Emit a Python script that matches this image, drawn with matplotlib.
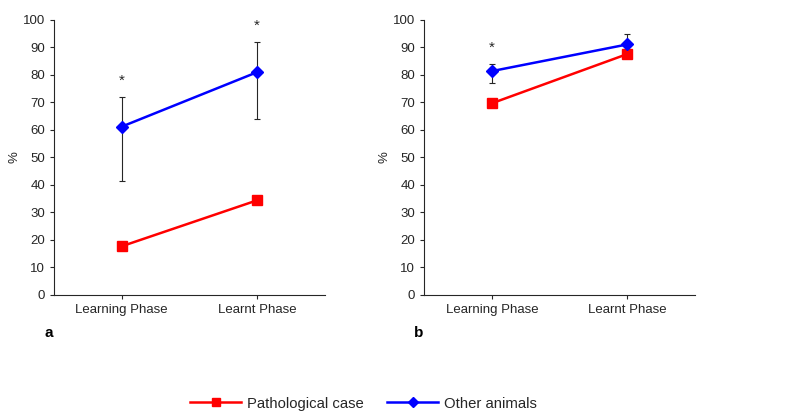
import matplotlib
matplotlib.use("Agg")
import matplotlib.pyplot as plt
import numpy as np

plt.rcParams["font.family"] = ["Liberation Sans", "DejaVu Sans"]

phases = ["Learning Phase", "Learnt Phase"]

# panel a
path_a = [17.7, 34.4]
other_a = [61.2, 81.0]
other_a_lo = [41.5, 64.0]
other_a_hi = [72.0, 92.0]
star_a = [78.0, 98.0]

# panel b
path_b = [69.7, 87.6]
other_b = [81.4, 91.1]
other_b_lo = [77.0, 86.0]
other_b_hi = [84.0, 95.0]
star_b = [90.0, None]

txt = "#262626"
fig = plt.figure(figsize=(7.87, 4.16), dpi=100)

def panel(left, path, other, lo, hi, stars, letter):
    ax = fig.add_axes([left, 0.291, 0.344, 0.661])
    x = np.arange(1, len(phases) + 1)
    ax.errorbar(x, other, yerr=[np.array(other) - np.array(lo), np.array(hi) - np.array(other)],
                fmt="none", ecolor="#262626", elinewidth=0.8, capsize=2.5, capthick=0.8, zorder=2)
    lr, = ax.plot(x, path, "-s", color="red", lw=1.8, ms=6.5, zorder=3)
    lb, = ax.plot(x, other, "-D", color="blue", lw=1.8, ms=6, zorder=3)
    for xi, s in zip(x, stars):
        if s is not None:
            ax.text(xi, s, "*", ha="center", va="center", fontsize=11, color=txt)
    ax.set_xlim(0.5, 2.5)
    ax.set_ylim(0, 100)
    ax.set_yticks(range(0, 101, 10))
    ax.set_xticks(x)
    ax.set_xticklabels(phases)
    ax.spines["top"].set_visible(False)
    ax.spines["right"].set_visible(False)
    for sp in ("left", "bottom"):
        ax.spines[sp].set_color(txt)
        ax.spines[sp].set_linewidth(0.8)
    ax.tick_params(direction="out", length=3, width=0.8, colors=txt, labelsize=9.5)
    ax.set_ylabel("%", color=txt, fontsize=9.5)
    ax.yaxis.set_label_coords(-0.123, 0.5)
    ax.text(-0.02, -0.14, letter, transform=ax.transAxes, fontsize=11, fontweight="bold",
            ha="center", va="center", color="black")
    return lr, lb

lr, lb = panel(0.0686, path_a, other_a, other_a_lo, other_a_hi, star_a, "a")
panel(0.539, path_b, other_b, other_b_lo, other_b_hi, star_b, "b")

fig.legend([lr, lb], ["Pathological case", "Other animals"], loc="center",
           bbox_to_anchor=(0.462, 0.03), ncol=2, frameon=False, fontsize=10.7,
           handlelength=3.4, columnspacing=1.6, handletextpad=0.4, markerscale=0.8,
           labelcolor=txt)

fig.savefig("out.png", dpi=100)
